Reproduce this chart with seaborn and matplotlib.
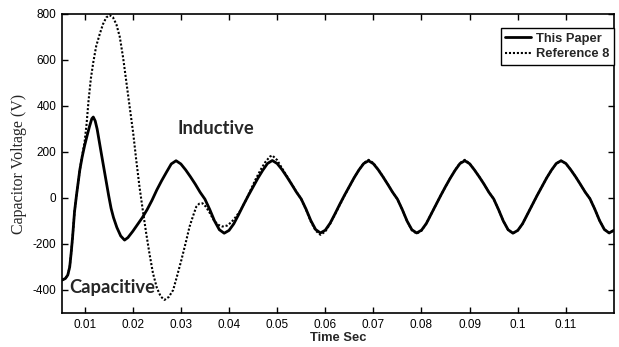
import matplotlib
matplotlib.use("Agg")
import matplotlib.pyplot as plt
import seaborn as sns
import pandas as pd

# ---- data ----
paper_t = [0.0053, 0.0060, 0.0065, 0.0069, 0.0072, 0.0075, 0.0079, 0.0083, 0.0087, 0.0090,
           0.0095, 0.0100, 0.0105, 0.0110, 0.0115, 0.0118, 0.0122, 0.0126, 0.0130, 0.0135,
           0.0140, 0.0145, 0.0150, 0.0155, 0.0160, 0.0167, 0.0175, 0.0183, 0.0190, 0.0200,
           0.0210, 0.0220, 0.0230, 0.0240, 0.0250, 0.0260, 0.0270, 0.0280,
           0.029, 0.030, 0.031, 0.032, 0.033, 0.034, 0.035, 0.036, 0.037, 0.038,
           0.039, 0.040, 0.041, 0.042, 0.043, 0.044, 0.045, 0.046, 0.047, 0.048,
           0.049, 0.050, 0.051, 0.052, 0.053, 0.054, 0.055, 0.056, 0.057, 0.058,
           0.059, 0.060, 0.061, 0.062, 0.063, 0.064, 0.065, 0.066, 0.067, 0.068,
           0.069, 0.070, 0.071, 0.072, 0.073, 0.074, 0.075, 0.076, 0.077, 0.078,
           0.079, 0.080, 0.081, 0.082, 0.083, 0.084, 0.085, 0.086, 0.087, 0.088,
           0.089, 0.090, 0.091, 0.092, 0.093, 0.094, 0.095, 0.096, 0.097, 0.098,
           0.099, 0.100, 0.101, 0.102, 0.103, 0.104, 0.105, 0.106, 0.107, 0.108,
           0.109, 0.110, 0.111, 0.112, 0.113, 0.114, 0.115, 0.116, 0.117, 0.118,
           0.119, 0.120]
paper_v = [-357, -350, -335, -300, -240, -170, -60, 10, 75, 122,
           180, 228, 270, 310, 345, 352, 335, 300, 250, 190,
           130, 70, 10, -45, -85, -128, -165, -183, -172, -145,
           -115, -85, -50, -10, 35, 75, 112, 148,
           162, 148, 122, 92, 60, 25, -5, -50, -100, -138,
           -153, -141, -112, -72, -30, 10, 48, 86, 120, 150,
           163, 150, 124, 93, 60, 26, -4, -48, -98, -137,
           -152, -140, -110, -70, -28, 12, 50, 88, 122, 150,
           162, 149, 123, 92, 59, 25, -5, -50, -100, -138,
           -152, -140, -111, -70, -30, 11, 50, 87, 121, 150,
           162, 149, 122, 92, 60, 25, -4, -50, -100, -138,
           -153, -141, -112, -71, -30, 10, 49, 87, 121, 150,
           162, 150, 123, 93, 60, 26, -3, -48, -98, -137,
           -152, -140]

ref_t = [0.0053, 0.0060, 0.0065, 0.0069, 0.0072, 0.0075, 0.0079, 0.0083, 0.0087, 0.0090,
         0.0095, 0.0100, 0.0104, 0.0108, 0.0113, 0.0118, 0.0124, 0.0131, 0.0138, 0.0145,
         0.0152, 0.0159, 0.0166, 0.0173, 0.0180, 0.0187, 0.0194, 0.0201, 0.0207, 0.0214,
         0.0221, 0.0228, 0.0235, 0.0242, 0.0250, 0.0258, 0.0266, 0.0275, 0.0284, 0.0292,
         0.0301, 0.0310, 0.0318, 0.0325, 0.0332, 0.0338, 0.0345, 0.0352, 0.0360, 0.0368,
         0.0376, 0.0386, 0.0396, 0.0405, 0.0415, 0.0425, 0.0435, 0.0445, 0.0455, 0.0465,
         0.0475, 0.0485, 0.0490,
         0.050, 0.051, 0.052, 0.053, 0.054, 0.055, 0.056, 0.057, 0.058,
         0.059, 0.060, 0.061, 0.062, 0.063, 0.064, 0.065, 0.066, 0.067, 0.068,
         0.069, 0.070, 0.071, 0.072, 0.073, 0.074, 0.075, 0.076, 0.077, 0.078,
         0.079, 0.080, 0.081, 0.082, 0.083, 0.084, 0.085, 0.086, 0.087, 0.088,
         0.089, 0.090, 0.091, 0.092, 0.093, 0.094, 0.095, 0.096, 0.097, 0.098,
         0.099, 0.100, 0.101, 0.102, 0.103, 0.104, 0.105, 0.106, 0.107, 0.108,
         0.109, 0.110, 0.111, 0.112, 0.113, 0.114, 0.115, 0.116, 0.117, 0.118,
         0.119, 0.120]
ref_v = [-357, -350, -335, -300, -240, -170, -60, 10, 75, 122,
         185, 245, 320, 420, 520, 590, 660, 710, 755, 785,
         795, 785, 755, 701, 610, 499, 390, 281, 170, 49,
         -55, -154, -245, -327, -390, -428, -443, -430, -400, -340,
         -270, -195, -125, -80, -38, -25, -23, -38, -65, -95,
         -115, -124, -120, -105, -80, -50, -10, 35, 80, 120,
         155, 180, 185,
         165, 130, 96, 62, 27, -4, -50, -102, -142,
         -160, -146, -113, -72, -30, 10, 49, 88, 122, 152,
         166, 152, 124, 93, 60, 25, -5, -50, -101, -140,
         -155, -142, -111, -70, -30, 11, 50, 88, 122, 152,
         166, 150, 122, 92, 60, 25, -4, -50, -100, -139,
         -153, -141, -112, -71, -30, 10, 49, 87, 121, 150,
         162, 150, 123, 93, 60, 26, -3, -48, -98, -137,
         -152, -140]

series_names = ["This Paper", "Reference 8"]
x_ticks = [0.01, 0.02, 0.03, 0.04, 0.05, 0.06, 0.07, 0.08, 0.09, 0.1, 0.11]
x_tick_labels = ["0.01", "0.02", "0.03", "0.04", "0.05", "0.06", "0.07", "0.08", "0.09", "0.1", "0.11"]
y_ticks = [-400, -200, 0, 200, 400, 600, 800]
y_tick_labels = ["-400", "-200", "0", "200", "400", "600", "800"]

# ---- plotting ----
sns.set_style("ticks")
plt.rcParams["font.family"] = ["Liberation Sans", "DejaVu Sans"]
plt.rcParams["axes.unicode_minus"] = False

fig = plt.figure(figsize=(6.19, 3.47), dpi=100)
ax = fig.add_axes([62 / 619, 1 - 313 / 347, (614 - 62) / 619, (313 - 14) / 347])

df_paper = pd.DataFrame({"t": paper_t, "v": paper_v})
df_ref = pd.DataFrame({"t": ref_t, "v": ref_v})

sns.lineplot(data=df_ref, x="t", y="v", ax=ax, color="black", lw=1.5,
             linestyle=(0, (1, 0.9)), label=series_names[1], sort=False)
sns.lineplot(data=df_paper, x="t", y="v", ax=ax, color="black", lw=2.0,
             label=series_names[0], sort=False)

ax.set_xlim(0.0053, 0.12)
ax.set_ylim(-500, 800)
ax.set_xticks(x_ticks)
ax.set_xticklabels(x_tick_labels)
ax.set_yticks(y_ticks)
ax.set_yticklabels(y_tick_labels)
ax.tick_params(direction="in", top=True, right=True, length=4, width=1,
               labelsize=8.5, colors="black", pad=4)
for s in ax.spines.values():
    s.set_color("black")
    s.set_linewidth(1.2)

ax.set_xlabel("Time Sec", fontsize=9.3, fontweight="bold", labelpad=1)
ax.set_ylabel("Capacitor Voltage (V)", fontsize=11.5, family=["Liberation Serif"], labelpad=4)

ax.text(0.0293, 304, "Inductive", fontsize=13.2, fontweight="bold",
        family=["Lato", "DejaVu Sans"], va="center", ha="left")
ax.text(0.0069, -387, "Capacitive", fontsize=13.2, fontweight="bold",
        family=["Lato", "DejaVu Sans"], va="center", ha="left")

handles, labels = ax.get_legend_handles_labels()
order = [labels.index(series_names[0]), labels.index(series_names[1])]
leg = ax.legend([handles[i] for i in order], [labels[i] for i in order],
                loc="upper right", bbox_to_anchor=(1.0, 0.952), fancybox=False,
                edgecolor="black", framealpha=1, handlelength=2.0,
                handletextpad=0.4, borderpad=0.35, labelspacing=0.25,
                borderaxespad=0, prop={"weight": "bold", "size": 9.3})
leg.get_frame().set_linewidth(1.0)

fig.savefig("out.png", dpi=100)
